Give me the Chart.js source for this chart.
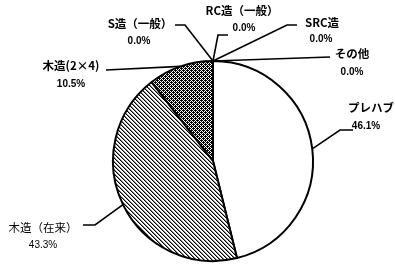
<!DOCTYPE html>
<html><head><meta charset="utf-8">
<script src="https://cdn.jsdelivr.net/npm/chart.js@4"></script>
<style>html,body{margin:0;padding:0;background:#fff}canvas{display:block}</style>
</head><body>
<canvas id="c" width="395" height="265"></canvas>
<script>
const categories = ["プレハブ", "木造（在来）", "木造(2×4)", "S造（一般）", "RC造（一般）", "SRC造", "その他"];
const shares = [46.1, 43.3, 10.5, 0.0, 0.0, 0.0, 0.0];
const shareLabels = ["46.1%", "43.3%", "10.5%", "0.0%", "0.0%", "0.0%", "0.0%"];

// layout only: label text centers and leader-line elbows
const labelLayout = [
  {name:[371,108], pct:[366,126], elbow:[340,130], end:[353,130], bold:true},
  {name:[43,228],  pct:[43,245],  elbow:[95,225],  end:[83,225],  bold:false},
  {name:[71,66],   pct:[71,84],   elbow:[106,70],  end:[106,70],  bold:true},
  {name:[140,24],  pct:[139,41],  elbow:[185,25],  end:[175,25],  bold:true},
  {name:[242,11],  pct:[244,28],  elbow:[218,35],  end:[228,35],  bold:true},
  {name:[322,23],  pct:[321,39],  elbow:[287,25],  end:[297,25],  bold:true},
  {name:[352,54],  pct:[352,72],  elbow:[330,57],  end:[330,57],  bold:true}
];

function makePattern(size, pixels) {
  const c = document.createElement('canvas');
  c.width = size; c.height = size;
  const x = c.getContext('2d');
  x.fillStyle = '#fff'; x.fillRect(0,0,size,size);
  pixels.forEach(p => { x.fillStyle = p[2] || '#000'; x.fillRect(p[0], p[1], 1, 1); });
  return x.createPattern(c, 'repeat');
}
const ctx0 = document.getElementById('c').getContext('2d');
const hatch = makePattern(4, [[0,0],[1,1],[2,2],[3,3],[1,0,'#888'],[2,1,'#888'],[3,2,'#888'],[0,3,'#888']]);
const checker = makePattern(4, [[0,0],[2,0],[1,1],[3,1],[0,2],[2,2],[1,3],[3,3],[1,0],[3,2]]);
const fills = ['#ffffff', hatch, checker, '#ffffff', '#ffffff', '#ffffff', '#ffffff'];

const labelPlugin = {
  id: 'labels',
  afterDraw(chart) {
    const ctx = chart.ctx;
    const meta = chart.getDatasetMeta(0);
    ctx.save();
    meta.data.forEach((arc, i) => {
      const L = labelLayout[i];
      const mid = (arc.startAngle + arc.endAngle) / 2;
      const ax = arc.x + Math.cos(mid) * arc.outerRadius;
      const ay = arc.y + Math.sin(mid) * arc.outerRadius;
      ctx.strokeStyle = '#000';
      ctx.lineWidth = 1.6;
      ctx.beginPath();
      ctx.moveTo(ax, ay);
      ctx.lineTo(L.elbow[0], L.elbow[1]);
      ctx.lineTo(L.end[0], L.end[1]);
      ctx.stroke();
      ctx.fillStyle = '#000';
      ctx.textAlign = 'center';
      ctx.textBaseline = 'middle';
      ctx.font = (L.bold ? 'bold ' : '') + '11.5px "Noto Sans CJK JP", sans-serif';
      ctx.fillText(categories[i], L.name[0], L.name[1]);
      ctx.font = (L.bold ? 'bold ' : '') + '10px "Liberation Sans", Arial, sans-serif';
      ctx.fillText(shareLabels[i], L.pct[0], L.pct[1]);
    });
    ctx.restore();
  }
};

new Chart(ctx0, {
  type: 'pie',
  data: {
    labels: categories,
    datasets: [{
      data: shares,
      backgroundColor: fills,
      borderColor: '#000',
      borderWidth: 2
    }]
  },
  options: {
    responsive: false,
    animation: false,
    layout: {padding: {left: 112, right: 81, top: 60, bottom: 3}},
    plugins: {legend: {display: false}, tooltip: {enabled: false}}
  },
  plugins: [labelPlugin]
});
</script>
</body></html>
